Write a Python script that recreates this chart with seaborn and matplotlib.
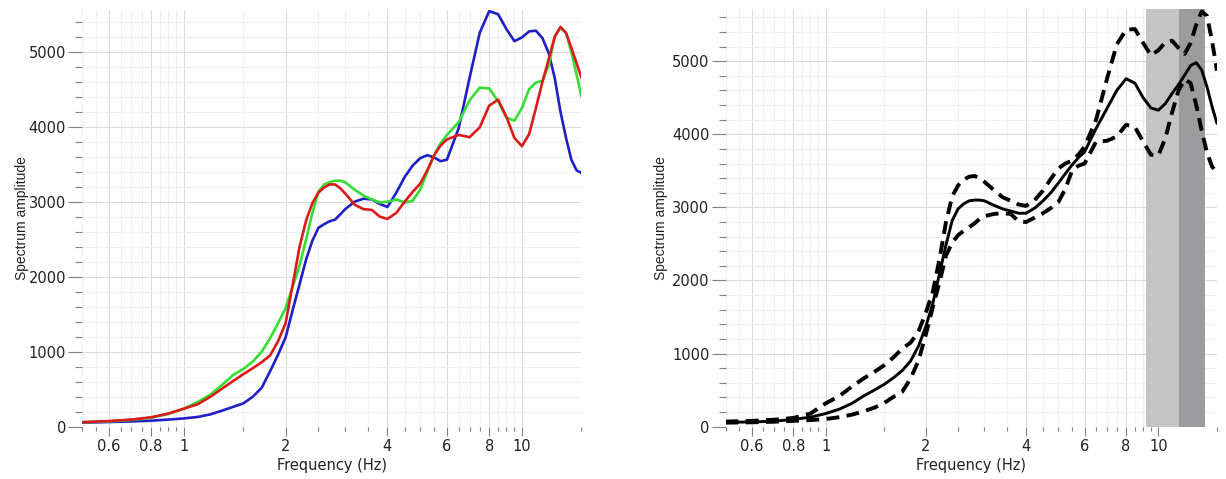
import matplotlib
matplotlib.use("Agg")
import matplotlib.pyplot as plt
from matplotlib.ticker import FixedLocator, FixedFormatter, NullFormatter
import pandas as pd
import seaborn as sns

# Frequencies (Hz) at which the spectra are sampled
freq = [0.5, 0.6, 0.7, 0.8, 0.9, 1.0, 1.1, 1.2, 1.3, 1.4, 1.5, 1.6, 1.7, 1.8, 1.9,
        2.0, 2.1, 2.2, 2.3, 2.4, 2.5, 2.6, 2.7, 2.8, 2.9, 3.0, 3.2, 3.4, 3.6, 3.8,
        4.0, 4.25, 4.5, 4.75, 5.0, 5.25, 5.5, 5.75, 6.0, 6.5, 7.0, 7.5, 8.0, 8.5,
        9.0, 9.5, 10, 10.5, 11, 11.5, 12, 12.5, 13, 13.5, 14, 14.5, 15]

# Left panel: three individual spectra
spec_blue = [55, 62, 70, 80, 95, 110, 130, 165, 215, 265, 311, 400, 520, 740, 960,
             1190, 1560, 1900, 2230, 2480, 2650, 2700, 2740, 2760, 2830, 2900, 3000, 3040, 3030, 2970,
             2930, 3120, 3330, 3480, 3580, 3620, 3590, 3540, 3560, 3980, 4650, 5250, 5540, 5500,
             5300, 5140, 5190, 5270, 5280, 5180, 4980, 4650, 4200, 3850, 3560, 3420, 3380]
spec_green = [60, 70, 90, 120, 170, 240, 330, 430, 560, 690, 770, 870, 1000, 1180, 1380,
              1580, 1870, 2150, 2500, 2850, 3130, 3230, 3260, 3280, 3280, 3260, 3160, 3080, 3030, 2990,
              3000, 3030, 2990, 3010, 3160, 3400, 3620, 3780, 3890, 4060, 4350, 4520, 4510, 4340,
              4120, 4080, 4250, 4500, 4590, 4610, 4820, 5200, 5320, 5250, 5000, 4700, 4400]
spec_red = [60, 75, 95, 125, 175, 240, 300, 400, 510, 610, 700, 780, 860, 950, 1140,
            1380, 1900, 2400, 2750, 2980, 3120, 3190, 3230, 3230, 3180, 3110, 2960, 2900, 2890, 2800,
            2770, 2850, 3000, 3130, 3240, 3420, 3620, 3750, 3830, 3890, 3860, 3990, 4280, 4360,
            4130, 3850, 3740, 3900, 4250, 4600, 4900, 5200, 5330, 5250, 5050, 4850, 4650]

# Right panel: mean spectrum with upper and lower envelopes
spec_mean = [60, 65, 75, 100, 130, 180, 240, 320, 420, 500, 580, 670, 770, 900, 1100,
             1370, 1690, 2100, 2490, 2820, 2980, 3050, 3090, 3100, 3100, 3090, 3030, 2980, 2950, 2920,
             2920, 2990, 3090, 3200, 3330, 3460, 3580, 3680, 3760, 4080, 4350, 4600, 4760, 4700,
             4500, 4360, 4330, 4420, 4560, 4680, 4810, 4940, 4980, 4880, 4650, 4380, 4150]
spec_upper = [70, 80, 95, 120, 180, 320, 420, 550, 660, 750, 840, 950, 1070, 1150, 1300,
              1560, 1850, 2300, 2800, 3150, 3300, 3380, 3420, 3430, 3400, 3350, 3240, 3140, 3090, 3040,
              3020, 3100, 3230, 3390, 3530, 3600, 3640, 3720, 3830, 4200, 4750, 5230, 5430, 5440,
              5250, 5080, 5150, 5260, 5280, 5180, 5100, 5250, 5500, 5680, 5620, 5280, 4870]
spec_lower = [55, 60, 68, 80, 90, 105, 130, 165, 210, 260, 325, 410, 480, 660, 900,
              1260, 1640, 1980, 2340, 2520, 2620, 2680, 2730, 2780, 2840, 2880, 2910, 2920, 2910, 2810,
              2800, 2860, 2920, 2990, 3070, 3250, 3500, 3570, 3600, 3900, 3910, 3970, 4130, 4100,
              3900, 3720, 3710, 3950, 4300, 4600, 4750, 4700, 4400, 4050, 3750, 3560, 3470]

# Frequency bands highlighted on the right panel
band_light = (9.2, 11.5)
band_dark = (11.5, 13.8)

# Axis ticks
xmajor = [0.6, 0.8, 1, 2, 4, 6, 8, 10]
xmajor_labels = ["0.6", "0.8", "1", "2", "4", "6", "8", "10"]
xminor = [0.5, 0.55, 0.65, 0.7, 0.75, 0.85, 0.9, 0.95, 1.5, 2.5, 3, 3.5, 4.5, 5, 5.5,
          6.5, 7, 7.5, 8.5, 9, 9.5, 15]
ymajor = [0, 1000, 2000, 3000, 4000, 5000]
yminor = list(range(0, 5800, 200))

sns.set_theme(style="white")
plt.rcParams['font.family'] = ['DejaVu Sans']

fig = plt.figure(figsize=(12.26, 4.79), dpi=100)
ax1 = fig.add_axes([0.0669, 0.1092, 0.4074, 0.8706])
ax2 = fig.add_axes([0.5918, 0.1092, 0.4008, 0.8714])

TICK_GRAY = "#808080"
LABEL_FONT = ['Liberation Sans', 'DejaVu Sans']


def style_axis(ax, ymax, ylab_x):
    ax.set_xscale('log')
    ax.set_xlim(0.5, 15)
    ax.set_ylim(0, ymax)
    ax.xaxis.set_major_locator(FixedLocator(xmajor))
    ax.xaxis.set_major_formatter(FixedFormatter(xmajor_labels))
    ax.xaxis.set_minor_locator(FixedLocator(xminor))
    ax.xaxis.set_minor_formatter(NullFormatter())
    ax.yaxis.set_major_locator(FixedLocator(ymajor))
    ax.yaxis.set_minor_locator(FixedLocator([v for v in yminor if v < ymax]))
    ax.yaxis.set_minor_formatter(NullFormatter())
    ax.tick_params(axis='x', which='major', length=6.5, width=0.8, color=TICK_GRAY,
                   pad=2.5, labelsize=10.5, labelcolor="#222222", direction='out', bottom=True)
    ax.tick_params(axis='x', which='minor', length=3, width=0.8, color=TICK_GRAY,
                   direction='out', bottom=True)
    ax.tick_params(axis='y', which='major', length=10, width=0.8, color=TICK_GRAY,
                   pad=1.5, labelsize=10.5, labelcolor="#222222", direction='out', left=True)
    ax.tick_params(axis='y', which='minor', length=5, width=0.8, color=TICK_GRAY,
                   direction='out', left=True)
    for s in ax.spines.values():
        s.set_visible(False)
    ax.set_axisbelow(True)
    ax.grid(which='major', color='#dcdcdc', linewidth=0.8)
    ax.grid(which='minor', color='#efefef', linewidth=0.8)
    ax.set_xlabel("Frequency (Hz)", fontsize=10.5, color="#222222")
    ax.xaxis.set_label_coords(0.5, -0.075)
    ax.set_ylabel("Spectrum amplitude", fontsize=10, color="#222222",
                  fontfamily=LABEL_FONT)
    ax.yaxis.set_label_coords(ylab_x, 0.5)


# Left panel
left = pd.DataFrame({"freq": freq, "blue": spec_blue, "green": spec_green, "red": spec_red})
for col, c in [("blue", "#1f1fc8"), ("green", "#34de34"), ("red", "#dc1a1a")]:
    sns.lineplot(data=left, x="freq", y=col, ax=ax1, color=c, linewidth=1.9,
                 estimator=None, sort=False)
style_axis(ax1, 5560, -0.1065)

# Right panel
right = pd.DataFrame({"freq": freq, "mean": spec_mean, "upper": spec_upper, "lower": spec_lower})
ax2.axvspan(*band_light, color="#c4c4c4", linewidth=0, zorder=1)
ax2.axvspan(*band_dark, color="#9c9c9f", linewidth=0, zorder=1)
for col in ["upper", "lower"]:
    sns.lineplot(data=right, x="freq", y=col, ax=ax2, color="black", linewidth=2.8,
                 estimator=None, sort=False)
    ax2.lines[-1].set_linestyle((0, (3.3, 1.9)))
sns.lineplot(data=right, x="freq", y="mean", ax=ax2, color="black", linewidth=2.1,
             estimator=None, sort=False)
style_axis(ax2, 5710, -0.117)

fig.savefig("out.png", dpi=100)
